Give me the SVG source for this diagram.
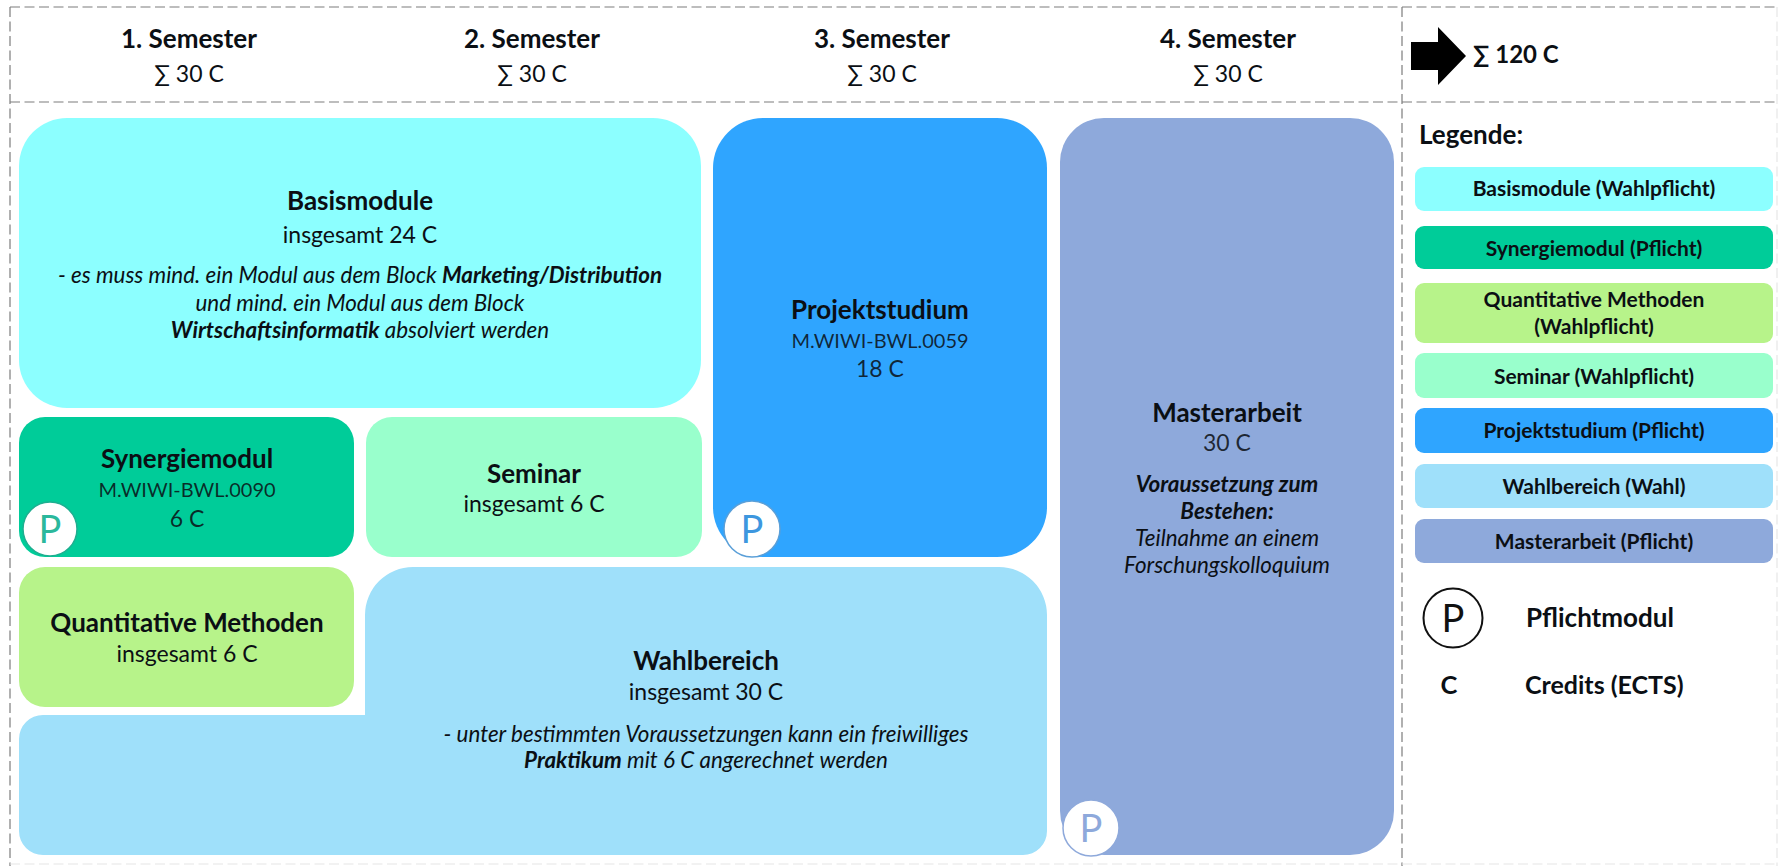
<svg xmlns="http://www.w3.org/2000/svg" width="1778" height="866" viewBox="0 0 1778 866">
<style>
text{font-family:"Lato","Carlito","Liberation Sans",sans-serif;fill:#0b0f14;text-anchor:middle}
.h{font-size:26px;font-weight:700}
.t{font-size:26px;font-weight:700}
.s{font-size:23px}
.c{font-size:20px;fill-opacity:.85}
.n{font-size:23px;fill-opacity:.85}
.u{font-size:23px}
.i{font-size:22.4px;font-style:italic}
.b{font-weight:700}
.l{font-size:21px;font-weight:700}
.g{fill:none;stroke:#7c7c7c;stroke-width:1.2;stroke-dasharray:10 4.5}
.f{fill:none;stroke:#e6e6e6;stroke-width:1.2;stroke-dasharray:10 4.5}
.pc{fill:#fff;stroke-width:1.5}
.pt{font-size:38px}
</style>
<rect width="1778" height="866" fill="#fff"/>
<g id="connectors">
<path class="g" d="M10 7H1778M10 102H1778M10 7V866M1402 7V866"/>
<path class="f" d="M10 864H1778M1777 7V866"/>
</g>
<g id="header">
<text class="h" x="189" y="48">1. Semester</text><text class="u" x="189" y="82">∑ 30 C</text>
<text class="h" x="532" y="48">2. Semester</text><text class="u" x="532" y="82">∑ 30 C</text>
<text class="h" x="882" y="48">3. Semester</text><text class="u" x="882" y="82">∑ 30 C</text>
<text class="h" x="1228" y="48">4. Semester</text><text class="u" x="1228" y="82">∑ 30 C</text>
</g>
<g id="total">
<polygon points="1411,42 1438,42 1438,27 1466,56 1438,85 1438,70 1411,70" fill="#000"/>
<text class="h" x="1473" y="63" style="text-anchor:start;font-size:24px">∑ 120 C</text>
</g>
<g id="basismodule">
<rect x="19" y="118" width="682" height="290" rx="48" fill="#8cffff"/>
<text class="t" x="360" y="210">Basismodule</text>
<text class="s" x="360" y="243">insgesamt 24 C</text>
<text class="i" x="360" y="283">- es muss mind. ein Modul aus dem Block <tspan class="b">Marketing/Distribution</tspan></text>
<text class="i" x="360" y="311">und mind. ein Modul aus dem Block</text>
<text class="i" x="360" y="338"><tspan class="b">Wirtschaftsinformatik</tspan> absolviert werden</text>
</g>
<g id="synergiemodul">
<rect x="19" y="417" width="335" height="140" rx="26" fill="#00cc99"/>
<text class="t" x="187" y="468">Synergiemodul</text>
<text class="c" x="187" y="497">M.WIWI-BWL.0090</text>
<text class="n" x="187" y="527">6 C</text>
<circle class="pc" cx="50" cy="529" r="27" stroke="#1fae90"/>
<text class="pt" x="50" y="543" style="fill:#2bb89c">P</text>
</g>
<g id="seminar">
<rect x="366" y="417" width="336" height="140" rx="26" fill="#99ffcc"/>
<text class="t" x="534" y="483">Seminar</text>
<text class="s" x="534" y="512">insgesamt 6 C</text>
</g>
<g id="quantitative">
<rect x="19" y="567" width="335" height="140" rx="26" fill="#b7f38a"/>
<text class="t" x="187" y="632">Quantitative Methoden</text>
<text class="s" x="187" y="662">insgesamt 6 C</text>
</g>
<g id="wahlbereich">
<path d="M365 715V615A48 48 0 0 1 413 567H999A48 48 0 0 1 1047 615V831A24 24 0 0 1 1023 855H43A24 24 0 0 1 19 831V739A24 24 0 0 1 43 715Z" fill="#9fe0fa"/>
<text class="t" x="706" y="670">Wahlbereich</text>
<text class="s" x="706" y="700">insgesamt 30 C</text>
<text class="i" x="706" y="742">- unter bestimmten Voraussetzungen kann ein freiwilliges</text>
<text class="i" x="706" y="768"><tspan class="b">Praktikum</tspan> mit 6 C angerechnet werden</text>
</g>
<g id="projektstudium">
<rect x="713" y="118" width="334" height="439" rx="50" fill="#2fa5ff"/>
<text class="t" x="880" y="319">Projektstudium</text>
<text class="c" x="880" y="348">M.WIWI-BWL.0059</text>
<text class="n" x="880" y="377">18 C</text>
<circle class="pc" cx="752" cy="529" r="28" stroke="#5a9fd8"/>
<text class="pt" x="752" y="543" style="fill:#3d97df">P</text>
</g>
<g id="masterarbeit">
<rect x="1060" y="118" width="334" height="737" rx="44" fill="#8ea9db"/>
<text class="t" x="1227" y="422">Masterarbeit</text>
<text class="n" x="1227" y="451">30 C</text>
<text class="i b" x="1227" y="492">Voraussetzung zum</text>
<text class="i b" x="1227" y="519">Bestehen:</text>
<text class="i" x="1227" y="546">Teilnahme an einem</text>
<text class="i" x="1227" y="573">Forschungskolloquium</text>
<circle class="pc" cx="1091" cy="828" r="28" stroke="#8ea9db"/>
<text class="pt" x="1091" y="842" style="fill:#8ea9db">P</text>
</g>
<g id="legende">
<text class="t" x="1419" y="144" style="text-anchor:start">Legende:</text>
<rect x="1415" y="167" width="358" height="44" rx="9" fill="#8cffff"/><text class="l" x="1594" y="196">Basismodule (Wahlpflicht)</text>
<rect x="1415" y="226" width="358" height="43" rx="9" fill="#00cc99"/><text class="l" x="1594" y="256">Synergiemodul (Pflicht)</text>
<rect x="1415" y="283" width="358" height="60" rx="9" fill="#b7f38a"/><text class="l" x="1594" y="307">Quantitative Methoden</text><text class="l" x="1594" y="334">(Wahlpflicht)</text>
<rect x="1415" y="353" width="358" height="45" rx="9" fill="#99ffcc"/><text class="l" x="1594" y="384">Seminar (Wahlpflicht)</text>
<rect x="1415" y="408" width="358" height="45" rx="9" fill="#2fa5ff"/><text class="l" x="1594" y="438">Projektstudium (Pflicht)</text>
<rect x="1415" y="464" width="358" height="44" rx="9" fill="#9fe0fa"/><text class="l" x="1594" y="494">Wahlbereich (Wahl)</text>
<rect x="1415" y="519" width="358" height="44" rx="9" fill="#8ea9db"/><text class="l" x="1594" y="549">Masterarbeit (Pflicht)</text>
<circle cx="1453" cy="618" r="29.5" fill="#fff" stroke="#111" stroke-width="2"/>
<text class="pt" x="1453" y="632" style="fill:#111">P</text>
<text class="t" x="1526" y="627" style="text-anchor:start">Pflichtmodul</text>
<text class="t" x="1449" y="694" style="font-size:25.5px">C</text>
<text class="t" x="1525" y="694" style="text-anchor:start;font-size:25px">Credits (ECTS)</text>
</g>
</svg>
